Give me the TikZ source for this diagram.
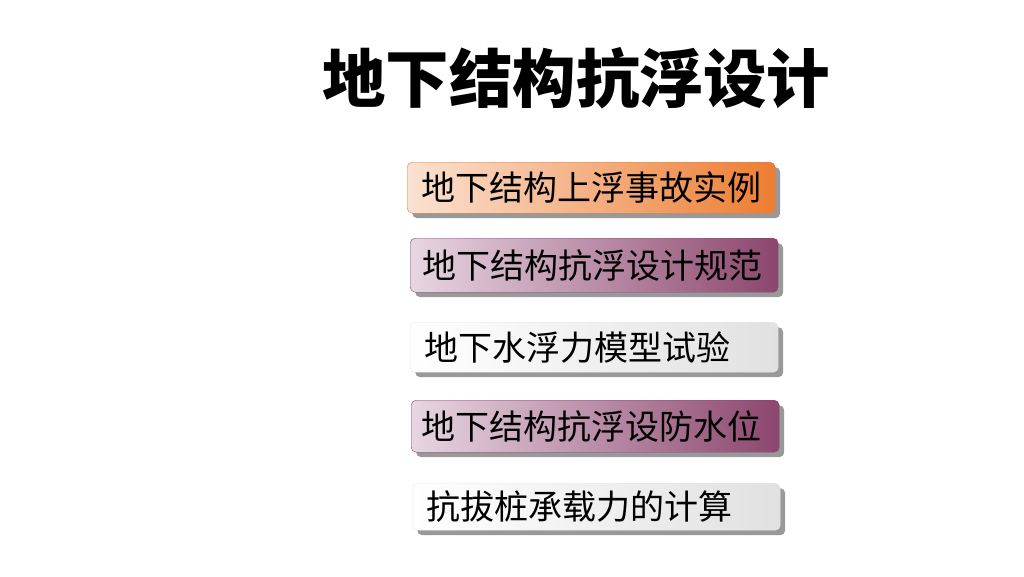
\documentclass[tikz,border=0pt]{standalone}
\usepackage{fontspec}
\newfontfamily\cjk{Noto Sans CJK SC}
\usetikzlibrary{shadows}
\definecolor{org}{RGB}{237,125,49}
\definecolor{orgl}{RGB}{251,226,210}
\definecolor{plum}{RGB}{140,70,110}
\definecolor{pluml}{RGB}{232,214,226}
\definecolor{gryl}{RGB}{255,255,255}
\definecolor{gry}{RGB}{225,225,225}
\tikzset{
 itembox/.style={rounded corners=5pt, minimum height=50pt, text width=#1, inner sep=0pt, anchor=north west,
   font=\cjk\fontsize{34}{34}\selectfont, align=left,
   drop shadow={shadow xshift=5pt, shadow yshift=-5pt, fill=black!40, opacity=1}},
 obox/.style={itembox=368pt, draw=org, left color=orgl, right color=org},
 pbox/.style={itembox=368pt, draw=plum, left color=pluml, right color=plum},
 gbox/.style={itembox=368pt, draw=gry!80, left color=gryl, right color=gry},
}
\begin{document}
\begin{tikzpicture}[x=1pt,y=-1pt]
\useasboundingbox (0,0) rectangle (1024,576);
\node (title) at (576,78) {\cjk\bfseries\fontsize{63.5}{63.5}\selectfont 地下结构抗浮设计};
\node[obox, minimum height=51pt] (b1) at (407,162) {\hspace*{14pt}地下结构上浮事故实例};
\node[pbox, minimum height=54pt] (b2) at (410,238) {\hspace*{12pt}地下结构抗浮设计规范};
\node[gbox, minimum height=50pt] (b3) at (410,322) {\hspace*{14pt}地下水浮力模型试验};
\node[pbox, minimum height=52pt] (b4) at (411,400) {\hspace*{10pt}地下结构抗浮设防水位};
\node[gbox, minimum height=47pt] (b5) at (412,483) {\hspace*{14pt}抗拔桩承载力的计算};
\end{tikzpicture}
\end{document}
